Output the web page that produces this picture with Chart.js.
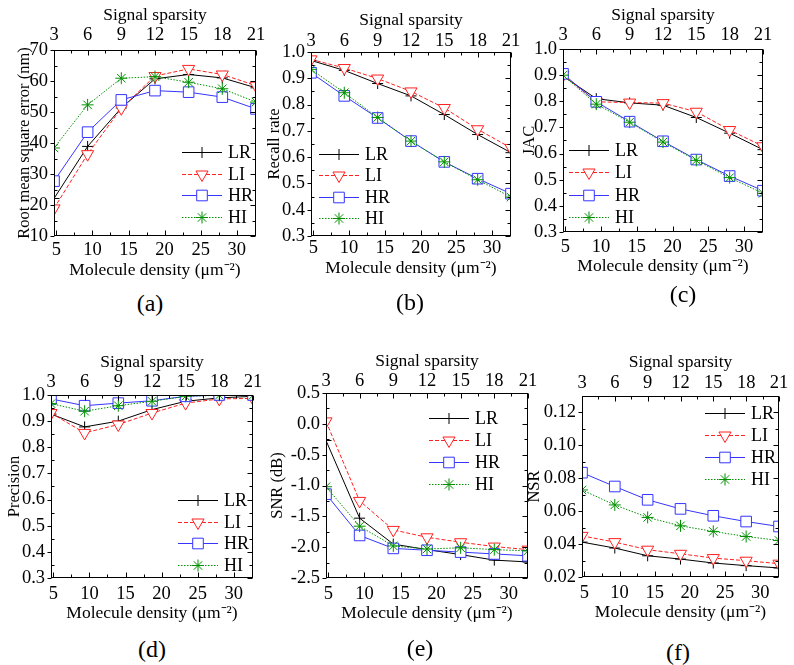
<!DOCTYPE html>
<html lang="en">
<head>
  <meta charset="UTF-8" />
  <title>Localization performance vs. molecule density</title>
  <style>
    body {
      margin: 0;
      background: #fff;
      width: 794px;
      height: 665px;
      position: relative;
      overflow: hidden;
      font-family: "Liberation Serif", "Times New Roman", serif;
      color: #000;
    }
    canvas.panel { position: absolute; }
    .cap {
      position: absolute;
      font-size: 24px;
      line-height: 1;
      transform: translate(-50%, -50%);
      white-space: nowrap;
    }
  </style>
  <script src="https://cdn.jsdelivr.net/npm/chart.js"></script>
</head>
<body>
  <div id="figure"></div>

  <script>
    // x positions (molecule density) and tick labels
    const density = [4.67, 9.33, 14.0, 18.67, 23.33, 28.0, 32.67];
    const densityTicks = [5, 10, 15, 20, 25, 30];
    const sparsityTicks = [3, 6, 9, 12, 15, 18, 21];
    const seriesNames = ['LR', 'LI', 'HR', 'HI'];

    // (a) root mean square error (nm)
    const rmseTicks = [10, 20, 30, 40, 50, 60, 70];
    const rmseLR = [22.1, 38.9, 51.3, 60.7, 62.1, 61.0, 57.8];
    const rmseLI = [18.9, 36.4, 51.2, 61.6, 63.9, 62.1, 58.5];
    const rmseHR = [27.7, 43.5, 53.9, 56.9, 56.4, 54.8, 51.0];
    const rmseHI = [38.4, 52.3, 60.9, 61.4, 59.6, 57.5, 53.2];

    // (b) recall rate
    const rateTicks = [0.3, 0.4, 0.5, 0.6, 0.7, 0.8, 0.9, 1.0];
    const recallLR = [0.968, 0.930, 0.880, 0.833, 0.762, 0.686, 0.617];
    const recallLI = [0.972, 0.939, 0.899, 0.850, 0.787, 0.706, 0.635];
    const recallHR = [0.921, 0.833, 0.749, 0.661, 0.582, 0.518, 0.461];
    const recallHI = [0.934, 0.845, 0.751, 0.661, 0.582, 0.514, 0.448];

    // (c) JAC
    const jacLR = [0.896, 0.810, 0.794, 0.785, 0.738, 0.678, 0.615];
    const jacLI = [0.900, 0.798, 0.795, 0.793, 0.760, 0.690, 0.628];
    const jacHR = [0.905, 0.798, 0.722, 0.647, 0.577, 0.514, 0.458];
    const jacHI = [0.900, 0.789, 0.720, 0.644, 0.574, 0.508, 0.448];

    // (d) precision
    const precLR = [0.927, 0.878, 0.900, 0.944, 0.976, 0.989, 0.995];
    const precLI = [0.931, 0.855, 0.887, 0.931, 0.969, 0.985, 0.987];
    const precHR = [0.985, 0.959, 0.969, 0.978, 0.995, 1.000, 1.000];
    const precHI = [0.967, 0.938, 0.959, 0.976, 0.995, 0.999, 0.999];

    // (e) SNR (dB)
    const snrTicks = [-2.5, -2.0, -1.5, -1.0, -0.5, 0.0, 0.5];
    const snrLR = [-0.27, -1.53, -1.95, -2.04, -2.12, -2.21, -2.24];
    const snrLI = [0.04, -1.25, -1.72, -1.84, -1.92, -1.99, -2.04];
    const snrHR = [-1.14, -1.81, -2.02, -2.05, -2.08, -2.11, -2.14];
    const snrHI = [-1.02, -1.66, -1.98, -2.03, -2.01, -2.04, -2.06];

    // (f) NSR
    const nsrTicks = [0.02, 0.04, 0.06, 0.08, 0.10, 0.12];
    const nsrLR = [0.0412, 0.0376, 0.0329, 0.0309, 0.0285, 0.0269, 0.0255];
    const nsrLI = [0.0450, 0.0412, 0.0366, 0.0341, 0.0315, 0.0299, 0.0281];
    const nsrHR = [0.0834, 0.0750, 0.0669, 0.0614, 0.0572, 0.0537, 0.0507];
    const nsrHI = [0.0729, 0.0638, 0.0562, 0.0511, 0.0477, 0.0446, 0.0422];

    const FONT = '"Liberation Serif", "Times New Roman", serif';
    const TICK_SIZE = 18.5, TITLE_SIZE = 17.5, YTITLE_SIZE = 16.5, LEGEND_SIZE = 18;

    const styles = {
      LR: { color: '#000000', dash: [], point: 'cross', radius: 5.5, rot: 0, order: 4 },
      LI: { color: '#ff2020', dash: [4, 2], point: 'triangle', radius: 7, rot: 180, order: 3 },
      HR: { color: '#3535ff', dash: [], point: 'rect', radius: 7.5, rot: 0, order: 2 },
      HI: { color: '#009000', dash: [1.5, 1.5], point: 'star', radius: 6, rot: 0, order: 1 }
    };

    // plot box = [left, top, right, bottom]; text centres; legend offset from plot corner
    const panels = [
      { cap: '(a)', capPos: [150, 303], plot: [54, 50, 256, 236], yTitleX: 25, topTitleY: 15, topLabelY: 35, botLabelY: 250, botTitleY: 270,
        yTitle: 'Root mean square error (nm)', yMin: 10, yMax: 70, yTicks: rmseTicks, dec: 0,
        series: [rmseLR, rmseLI, rmseHR, rmseHI], legend: { x: 128, y: 102, dy: 21.7 } },
      { cap: '(b)', capPos: [410, 302], plot: [311, 52, 511, 236], yTitleX: 275, topTitleY: 20, topLabelY: 41, botLabelY: 248, botTitleY: 268,
        yTitle: 'Recall rate', yMin: 0.3, yMax: 1.0, yTicks: rateTicks, dec: 1,
        series: [recallLR, recallLI, recallHR, recallHI], legend: { x: 8, y: 102, dy: 21.3 } },
      { cap: '(c)', capPos: [683, 294], plot: [563, 49, 763, 232], yTitleX: 530, topTitleY: 15, topLabelY: 35, botLabelY: 247, botTitleY: 266,
        yTitle: 'JAC', yMin: 0.3, yMax: 1.0, yTicks: rateTicks, dec: 1,
        series: [jacLR, jacLI, jacHR, jacHI], legend: { x: 6, y: 101, dy: 22.3 } },
      { cap: '(d)', capPos: [152, 649], plot: [51, 395, 253, 578], yTitleX: 15, topTitleY: 362, topLabelY: 382, botLabelY: 594, botTitleY: 613,
        yTitle: 'Precision', yMin: 0.3, yMax: 1.0, yTicks: rateTicks, dec: 1,
        series: [precLR, precLI, precHR, precHI], legend: { x: 127, y: 105, dy: 21.7 } },
      { cap: '(e)', capPos: [420, 648], plot: [326, 393, 528, 578], yTitleX: 278, topTitleY: 361, topLabelY: 381, botLabelY: 594, botTitleY: 613,
        yTitle: 'SNR (dB)', yMin: -2.5, yMax: 0.5, yTicks: snrTicks, dec: 1,
        series: [snrLR, snrLI, snrHR, snrHI], legend: { x: 103, y: 25, dy: 22 } },
      { cap: '(f)', capPos: [678, 652], plot: [582, 396, 779, 577], yTitleX: 535, topTitleY: 362, topLabelY: 383, botLabelY: 593, botTitleY: 612,
        yTitle: 'NSR', yMin: 0.02, yMax: 0.13, yTicks: nsrTicks, dec: 2,
        series: [nsrLR, nsrLI, nsrHR, nsrHI], legend: { x: 123, y: 17, dy: 22 } }
    ];

    // major ticks from the scale, minor ticks half way between them
    function tickValues(s) {
      const major = s.ticks.map(t => t.value);
      const out = major.map(v => [v, true]);
      const step = major[1] - major[0];
      for (let v = major[0] - step / 2; v <= s.max + 1e-9; v += step) {
        if (v >= s.min - 1e-9) out.push([v, false]);
      }
      return out;
    }

    // box frame with inward ticks (left majors point out)
    const framePlugin = {
      id: 'frameTicks',
      afterDatasetsDraw(chart) {
        const { ctx, chartArea: a, scales } = chart;
        const xl = Math.round(a.left) + 0.5, xr = Math.round(a.right) - 0.5;
        const yt = Math.round(a.top) + 0.5, yb = Math.round(a.bottom) - 0.5;
        ctx.save();
        ctx.strokeStyle = '#000';
        ctx.lineWidth = 1;
        ctx.setLineDash([]);
        ctx.strokeRect(xl, yt, xr - xl, yb - yt);
        ctx.beginPath();
        [['x', yb, -1], ['x2', yt, 1]].forEach(([id, y0, dir]) => {
          const s = scales[id];
          tickValues(s).forEach(([v, major]) => {
            const px = Math.round(s.getPixelForValue(v)) + 0.5;
            ctx.moveTo(px, y0);
            ctx.lineTo(px, y0 + dir * (major ? 5 : 3));
          });
        });
        const sy = scales.y;
        tickValues(sy).forEach(([v, major]) => {
          const py = Math.round(sy.getPixelForValue(v)) + 0.5;
          if (major) { ctx.moveTo(xl - 4, py); ctx.lineTo(xl, py); }
          else { ctx.moveTo(xl, py); ctx.lineTo(xl + 3, py); }
          ctx.moveTo(xr, py);
          ctx.lineTo(xr - (major ? 5 : 3), py);
        });
        ctx.stroke();
        ctx.restore();
      }
    };

    function marker(ctx, style, x, y) {
      const opts = { pointStyle: style.point, rotation: style.rot, radius: style.radius, borderWidth: 1 };
      if (Chart.helpers && Chart.helpers.drawPoint) {
        Chart.helpers.drawPoint(ctx, opts, x, y);
      }
    }

    // legend drawn inside the plot box
    const legendPlugin = {
      id: 'insetLegend',
      afterDraw(chart, args, opts) {
        const { ctx, chartArea: a } = chart;
        chart.data.datasets.forEach((ds, i) => {
          const st = styles[ds.label];
          const y = Math.round(a.top + opts.y + i * opts.dy) + 0.5;
          const x0 = a.left + opts.x;
          ctx.save();
          ctx.strokeStyle = st.color;
          ctx.lineWidth = 1;
          ctx.setLineDash(st.dash);
          ctx.beginPath();
          ctx.moveTo(x0, y);
          ctx.lineTo(x0 + 40, y);
          ctx.stroke();
          ctx.setLineDash([]);
          ctx.fillStyle = '#fff';
          ctx.strokeStyle = st.color;
          marker(ctx, st, x0 + 20, y);
          ctx.fillStyle = '#000';
          ctx.font = LEGEND_SIZE + 'px ' + FONT;
          ctx.textBaseline = 'middle';
          ctx.textAlign = 'left';
          ctx.fillText(ds.label, x0 + 46, y + 1);
          ctx.restore();
        });
      }
    };

    const fig = document.getElementById('figure');
    const lhTitle = TITLE_SIZE * 1.2, lhY = YTITLE_SIZE * 1.2, lhTick = TICK_SIZE * 1.2;

    panels.forEach(p => {
      const [L, T, R, B] = p.plot;
      const cx = Math.floor(p.yTitleX - lhY / 2);
      const cy = Math.floor(p.topTitleY - lhTitle / 2);
      const cb = Math.ceil(p.botTitleY + lhTitle / 2);
      const cr = R + 18;
      const yW = L - cx, topH = T - cy, botH = cb - B;

      const canvas = document.createElement('canvas');
      canvas.className = 'panel';
      canvas.width = cr - cx;
      canvas.height = cb - cy;
      canvas.style.left = cx + 'px';
      canvas.style.top = cy + 'px';
      canvas.style.width = (cr - cx) + 'px';
      canvas.style.height = (cb - cy) + 'px';
      fig.appendChild(canvas);

      const cap = document.createElement('div');
      cap.className = 'cap';
      cap.textContent = p.cap;
      cap.style.left = p.capPos[0] + 'px';
      cap.style.top = p.capPos[1] + 'px';
      fig.appendChild(cap);

      const fitTo = size => s => {
        if (s.isHorizontal()) s.height = size; else s.width = size;
        s.paddingLeft = s.paddingRight = s.paddingTop = s.paddingBottom = 0;
      };
      const tickFont = { family: FONT, size: TICK_SIZE };
      const titleFont = { family: FONT, size: TITLE_SIZE };
      const yTitleFont = { family: FONT, size: YTITLE_SIZE };

      const datasets = seriesNames.map((name, i) => {
        const st = styles[name];
        return {
          label: name,
          data: density.map((x, j) => ({ x: x, y: p.series[i][j] })),
          borderColor: st.color,
          borderWidth: 1,
          borderDash: st.dash,
          pointStyle: st.point,
          pointRotation: st.rot,
          pointRadius: st.radius,
          pointBorderColor: st.color,
          pointBackgroundColor: '#fff',
          pointBorderWidth: 1,
          tension: 0,
          fill: false,
          order: st.order
        };
      });

      new Chart(canvas, {
        type: 'line',
        data: { datasets },
        options: {
          responsive: false,
          devicePixelRatio: 1,
          animation: false,
          layout: { padding: { left: 0, top: 0, right: cr - R, bottom: 0 } },
          plugins: {
            legend: { display: false },
            tooltip: { enabled: false },
            insetLegend: p.legend
          },
          scales: {
            x: {
              type: 'linear', position: 'bottom', min: 4.67, max: 32.67,
              afterBuildTicks: s => { s.ticks = densityTicks.map(v => ({ value: v })); },
              afterFit: fitTo(botH),
              grid: { display: false, drawTicks: false },
              border: { display: false },
              ticks: { color: '#000', font: tickFont, padding: p.botLabelY - B - lhTick / 2, autoSkip: false, maxRotation: 0, callback: v => String(v) },
              title: { display: true, text: 'Molecule density (\u03bcm\u207b\u00b2)', color: '#000', font: titleFont,
                padding: { top: 0, bottom: cb - p.botTitleY - lhTitle / 2 } }
            },
            x2: {
              type: 'linear', position: 'top', min: 3, max: 21,
              afterBuildTicks: s => { s.ticks = sparsityTicks.map(v => ({ value: v })); },
              afterFit: fitTo(topH),
              grid: { display: false, drawTicks: false },
              border: { display: false },
              ticks: { color: '#000', font: tickFont, padding: T - p.topLabelY - lhTick / 2, autoSkip: false, maxRotation: 0, callback: v => String(v) },
              title: { display: true, text: 'Signal sparsity', color: '#000', font: titleFont,
                padding: { top: p.topTitleY - lhTitle / 2 - cy, bottom: 0 } }
            },
            y: {
              type: 'linear', position: 'left', min: p.yMin, max: p.yMax,
              afterBuildTicks: s => { s.ticks = p.yTicks.map(v => ({ value: v })); },
              afterFit: fitTo(yW),
              grid: { display: false, drawTicks: false },
              border: { display: false },
              ticks: { color: '#000', font: tickFont, padding: 6, autoSkip: false, callback: v => v.toFixed(p.dec) },
              title: { display: true, text: p.yTitle, color: '#000', font: yTitleFont,
                padding: { top: p.yTitleX - lhY / 2 - cx, bottom: 0 } }
            }
          }
        },
        plugins: [framePlugin, legendPlugin]
      });
    });
  </script>
</body>
</html>
